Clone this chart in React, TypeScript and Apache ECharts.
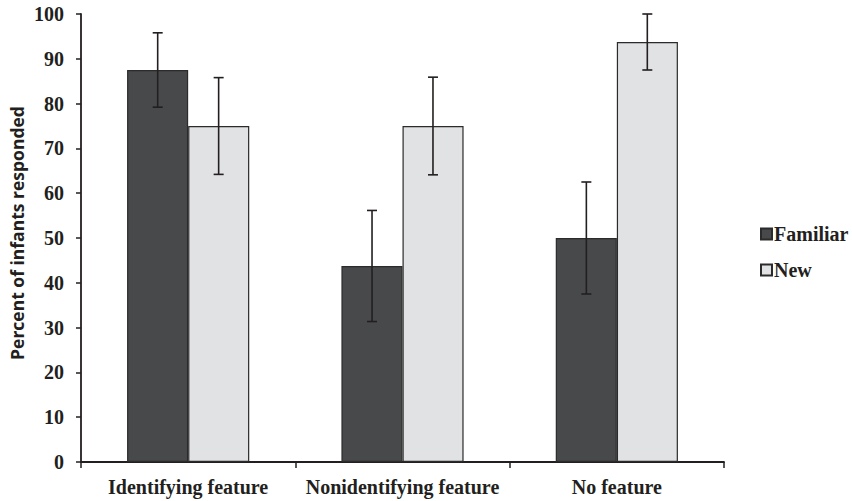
import React, { useEffect, useRef } from "react";
import * as echarts from "echarts";

const categories = ["Identifying feature", "Nonidentifying feature", "No feature"];
const familiarValues = [87.5, 43.75, 50];
const familiarErrors = [8.3, 12.4, 12.5];
const newValues = [75, 75, 93.75];
const newErrors = [10.8, 10.9, 6.25];
const yTicks = [0, 10, 20, 30, 40, 50, 60, 70, 80, 90, 100];

const serif = "'Liberation Serif', 'DejaVu Serif', serif";

export default function App() {
  const ref = useRef<HTMLDivElement>(null);
  useEffect(() => {
    if (!ref.current) return;
    const chart = echarts.init(ref.current, null, { renderer: "svg" });

    const makeErr = (vals: number[], errs: number[]) =>
      vals.map((v, i) => [i, v - errs[i], v + errs[i]]);

    const errSeries = (name: string, data: number[][], side: number) => ({
      type: "custom",
      name: name + " error",
      data,
      z: 10,
      renderItem: (params: any, api: any) => {
        const idx = api.value(0);
        const lo = api.coord([idx, api.value(1)]);
        const hi = api.coord([idx, api.value(2)]);
        const band = api.size([1, 0])[0];
        const x = lo[0] + side * band * 0.1422;
        const cap = 5;
        const style = { stroke: "#231f20", lineWidth: 1.6 };
        return {
          type: "group",
          children: [
            { type: "line", shape: { x1: x, y1: lo[1], x2: x, y2: hi[1] }, style },
            { type: "line", shape: { x1: x - cap, y1: lo[1], x2: x + cap, y2: lo[1] }, style },
            { type: "line", shape: { x1: x - cap, y1: hi[1], x2: x + cap, y2: hi[1] }, style },
          ],
        };
      },
    });

    chart.setOption({
      animation: false,
      grid: { left: 81, right: 128, top: 14, bottom: 39 },
      legend: {
        orient: "vertical",
        left: 755,
        top: 219,
        itemWidth: 11,
        itemHeight: 11,
        itemGap: 16,
        icon: "rect",
        data: ["Familiar", "New"],
        textStyle: { fontFamily: serif, fontWeight: "bold", fontSize: 20, color: "#231f20", padding: [0, 0, 0, -3] },
      },
      graphic: [
        {
          type: "text",
          x: 17,
          y: 233,
          rotation: Math.PI / 2,
          style: {
            text: "Percent of infants responded",
            fontFamily: "'Open Sans', sans-serif",
            fontWeight: "bold",
            fontSize: 17.5,
            fill: "#231f20",
            align: "center",
            verticalAlign: "middle",
          },
        },
      ],
      xAxis: {
        type: "category",
        data: categories,
        axisLine: { lineStyle: { color: "#231f20", width: 1.8 } },
        axisTick: { show: true, interval: 0, length: 6, lineStyle: { color: "#231f20", width: 1.5 } },
        axisLabel: { interval: 0, fontFamily: serif, fontWeight: "bold", fontSize: 20, color: "#231f20", margin: 15 },
      },
      yAxis: {
        type: "value",
        min: yTicks[0],
        max: yTicks[yTicks.length - 1],
        interval: 10,
        splitLine: { show: false },
        axisLine: { show: true, lineStyle: { color: "#231f20", width: 1.8 } },
        axisTick: { show: true, length: 5, lineStyle: { color: "#231f20", width: 1.5 } },
        axisLabel: { fontFamily: serif, fontWeight: "bold", fontSize: 20, color: "#231f20", margin: 17 },
      },
      series: [
        {
          type: "bar",
          name: "Familiar",
          data: familiarValues,
          barGap: "0%",
          barCategoryGap: "43%",
          itemStyle: { color: "#48494b", borderColor: "#2b2b2b", borderWidth: 1.2 },
        },
        {
          type: "bar",
          name: "New",
          data: newValues,
          barGap: "0%",
          barCategoryGap: "43%",
          itemStyle: { color: "#e1e2e4", borderColor: "#2b2b2b", borderWidth: 1.2 },
        },
        errSeries("Familiar", makeErr(familiarValues, familiarErrors), -1),
        errSeries("New", makeErr(newValues, newErrors), 1),
      ],
    });
    return () => chart.dispose();
  }, []);
  return <div ref={ref} style={{ position: "absolute", left: 0, top: 0, width: 852, height: 501 }} />;
}
